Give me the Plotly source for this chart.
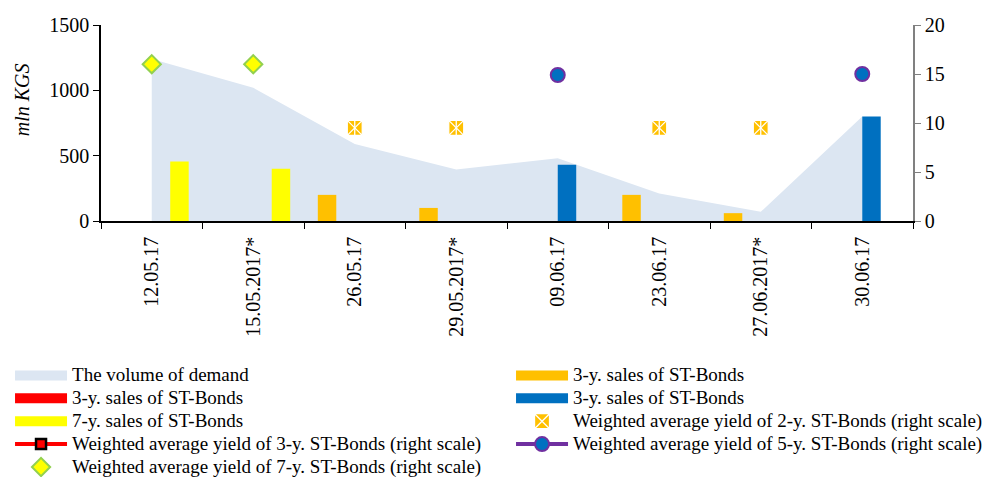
import plotly.graph_objects as go

# Auction dates (asterisk = additional placement)
dates = ["12.05.17", "15.05.2017*", "26.05.17", "29.05.2017*",
         "09.06.17", "23.06.17", "27.06.2017*", "30.06.17"]

# Volumes, mln KGS (left scale)
demand = [1240, 1020, 590, 395, 480, 210, 70, 800]
sales_3y_orange = [None, None, 200, 100, None, 200, 60, None]
sales_3y_red = [None] * 8
sales_3y_blue = [None, None, None, None, 430, None, None, 800]
sales_7y = [455, 400, None, None, None, None, None, None]

# Weighted average yields, % (right scale)
yield_2y = [None, None, 9.5, 9.5, None, 9.5, 9.5, None]
yield_3y = [None] * 8
yield_5y = [None, None, None, None, 14.9, None, None, 15.0]
yield_7y = [16.0, 16.0, None, None, None, None, None, None]

FONT = '"Liberation Serif", "Times New Roman", Times, serif'
C_DEMAND = "#DCE6F2"
C_ORANGE = "#FFC000"
C_RED = "#FF0000"
C_BLUE = "#0070C0"
C_YELLOW = "#FFFF00"
C_PURPLE = "#7030A0"
C_GREEN = "#92D050"


def label(text):
    return '<span style="font-size:19px">' + text + "</span>"


fig = go.Figure()

# demand area (base subplot, drawn underneath everything)
fig.add_trace(go.Scatter(
    x=dates, y=demand, mode="none", fill="tozeroy", fillcolor=C_DEMAND,
    showlegend=False, legendgroup="demand", hoverinfo="x+y"))

# bars on an overlaying axis so they sit above the area;
# four slots per category (orange, red, blue, yellow)
bw = 0.182
bar_specs = [
    (sales_3y_orange, C_ORANGE, -2 * bw, "orange"),
    (sales_3y_red, C_RED, -bw, "red"),
    (sales_3y_blue, C_BLUE, 0.0, "blue"),
    (sales_7y, C_YELLOW, bw, "yellow"),
]
for vals, col, off, grp in bar_specs:
    fig.add_trace(go.Bar(
        x=dates, y=vals, yaxis="y2", marker=dict(color=col, line=dict(width=0)),
        width=bw, offset=off, showlegend=False, legendgroup=grp))

# yield markers on the right scale
fig.add_trace(go.Scatter(
    x=dates, y=yield_2y, yaxis="y3", mode="markers",
    marker=dict(symbol="square-x", size=15, color=C_ORANGE,
                line=dict(color="white", width=1.3)),
    name=label("Weighted average yield of 2-y. ST-Bonds (right scale)"),
    legend="legend2", legendrank=3))
fig.add_trace(go.Scatter(
    x=dates, y=yield_2y, yaxis="y3", mode="markers",
    marker=dict(symbol="line-ns", size=11,
                line=dict(color="white", width=1.3)),
    showlegend=False, hoverinfo="skip"))
fig.add_trace(go.Scatter(
    x=dates, y=yield_3y, yaxis="y3", mode="lines+markers",
    line=dict(color=C_RED, width=4),
    marker=dict(symbol="square", size=10, color=C_RED,
                line=dict(color="black", width=2.5)),
    name=label("Weighted average yield of 3-y. ST-Bonds (right scale)"),
    legendrank=4))
fig.add_trace(go.Scatter(
    x=dates, y=yield_5y, yaxis="y3", mode="lines+markers",
    line=dict(color=C_PURPLE, width=4),
    marker=dict(symbol="circle", size=14, color=C_BLUE,
                line=dict(color=C_PURPLE, width=2)),
    name=label("Weighted average yield of 5-y. ST-Bonds (right scale)"),
    legend="legend2", legendrank=4))
fig.add_trace(go.Scatter(
    x=dates, y=yield_7y, yaxis="y3", mode="markers",
    marker=dict(symbol="diamond", size=14, color=C_YELLOW,
                line=dict(color=C_GREEN, width=2)),
    name=label("Weighted average yield of 7-y. ST-Bonds (right scale)"),
    legendrank=5))

# wide legend keys for the area and bar series
legend_keys = [
    ("The volume of demand", C_DEMAND, "demand", "legend", 1),
    ("3-y. sales of ST-Bonds", C_RED, "red", "legend", 2),
    ("7-y. sales of ST-Bonds", C_YELLOW, "yellow", "legend", 3),
    ("3-y. sales of ST-Bonds", C_ORANGE, "orange", "legend2", 1),
    ("3-y. sales of ST-Bonds", C_BLUE, "blue", "legend2", 2),
]
for name, col, grp, leg, rank in legend_keys:
    fig.add_trace(go.Scatter(
        x=[None], y=[None], mode="lines", line=dict(color=col, width=10),
        name=label(name), legendgroup=grp, legend=leg, legendrank=rank))

legend_style = dict(
    orientation="v", xanchor="left", yanchor="top",
    xref="container", yref="container",
    itemwidth=52, font=dict(family=FONT, size=15.3), traceorder="normal",
    bgcolor="rgba(0,0,0,0)", itemclick=False, tracegroupgap=0)

fig.update_layout(
    width=1003, height=477,
    margin=dict(l=101, r=90, t=25, b=256, autoexpand=False),
    paper_bgcolor="white", plot_bgcolor="white",
    font=dict(family=FONT, size=19, color="black"),
    barmode="overlay",
    xaxis=dict(
        type="category", tickangle=-90, tickson="boundaries",
        ticks="outside", ticklen=6, tickcolor="black",
        showline=True, linecolor="black", linewidth=1.5,
        showgrid=False, zeroline=False, ticklabelstandoff=6,
        tickfont=dict(family=FONT, size=20)),
    yaxis=dict(
        range=[0, 1500], dtick=500, ticks="outside", ticklen=6,
        tickcolor="black", showline=True, linecolor="black", linewidth=1.5,
        showgrid=False, zeroline=False,
        tickfont=dict(family=FONT, size=20)),
    yaxis2=dict(range=[0, 1500], overlaying="y", visible=False),
    yaxis3=dict(
        range=[0, 20], dtick=5, overlaying="y", side="right",
        ticks="outside", ticklen=6, tickcolor="#808080",
        showline=True, linecolor="#808080", linewidth=1.5,
        showgrid=False, zeroline=False,
        tickfont=dict(family=FONT, size=20)),
    legend=dict(x=0.0100, y=0.2474, **legend_style),
    legend2=dict(x=0.5095, y=0.2474, **legend_style),
    annotations=[dict(
        text="<i>mln KGS</i>", xref="paper", yref="paper",
        x=-0.097, y=0.617, xanchor="center", yanchor="middle",
        textangle=-90, showarrow=False,
        font=dict(family=FONT, size=20))],
)

fig.write_html("out.html")
